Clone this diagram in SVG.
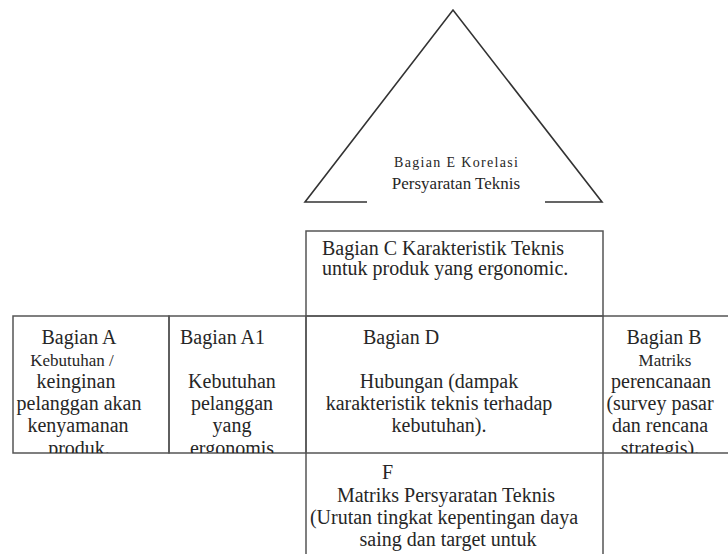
<svg xmlns="http://www.w3.org/2000/svg" width="728" height="554" viewBox="0 0 728 554">
  <style>
    .ln { fill: none; stroke: #555; stroke-width: 1.5; }
    .tri { fill: none; stroke: #333; stroke-width: 1.6; }
    .t { font-family: "Liberation Serif", "Times New Roman", serif; font-size: 20px; fill: #262626; }
    .m { text-anchor: middle; }
    .s { font-size: 17px; }
  </style>
  <defs>
    <clipPath id="rowClip"><rect x="0" y="316" width="728" height="137"/></clipPath>
  </defs>
  <rect x="0" y="0" width="728" height="554" fill="#ffffff"/>

  <g id="node-E">
    <polyline class="tri" points="367,202 305,202 453,10 602,202 545,202"/>
    <text class="t m" x="456" y="167" textLength="124" lengthAdjust="spacing" style="font-size:14px">Bagian E Korelasi</text>
    <text class="t m" x="456" y="189" style="font-size:17px">Persyaratan Teknis</text>
  </g>

  <g id="node-C">
    <rect class="ln" x="306" y="231" width="297" height="85"/>
    <text class="t" x="322" y="255">Bagian C Karakteristik Teknis</text>
    <text class="t" x="322" y="275">untuk produk yang ergonomic.</text>
  </g>

  <g id="node-A">
    <rect class="ln" x="13" y="316" width="156" height="137"/>
    <g clip-path="url(#rowClip)">
      <text class="t m" x="79" y="344">Bagian A</text>
      <text class="t m s" x="72" y="366">Kebutuhan /</text>
      <text class="t m" x="76" y="388">keinginan</text>
      <text class="t m" x="79" y="410">pelanggan akan</text>
      <text class="t m" x="78" y="432">kenyamanan</text>
      <text class="t m" x="79" y="455">produk.</text>
    </g>
  </g>

  <g id="node-A1">
    <rect class="ln" x="169" y="316" width="137" height="137"/>
    <g clip-path="url(#rowClip)">
      <text class="t" x="180" y="344">Bagian A1</text>
      <text class="t m" x="232" y="388">Kebutuhan</text>
      <text class="t m" x="232" y="410">pelanggan</text>
      <text class="t m" x="232" y="432">yang</text>
      <text class="t m" x="232" y="455">ergonomis</text>
    </g>
  </g>

  <g id="node-D">
    <rect class="ln" x="306" y="316" width="297" height="137"/>
    <g clip-path="url(#rowClip)">
      <text class="t" x="363" y="344">Bagian D</text>
      <text class="t m" x="439" y="388">Hubungan (dampak</text>
      <text class="t m" x="439" y="410">karakteristik teknis terhadap</text>
      <text class="t m" x="439" y="432">kebutuhan).</text>
    </g>
  </g>

  <g id="node-B">
    <line class="ln" x1="603" y1="316" x2="728" y2="316"/>
    <line class="ln" x1="603" y1="453" x2="728" y2="453"/>
    <g clip-path="url(#rowClip)">
      <text class="t m" x="664" y="344">Bagian B</text>
      <text class="t m s" x="665" y="366">Matriks</text>
      <text class="t m" x="661" y="388">perencanaan</text>
      <text class="t m" x="660" y="410">(survey pasar</text>
      <text class="t m" x="660" y="432">dan rencana</text>
      <text class="t m" x="660" y="455">strategis).</text>
    </g>
  </g>

  <g id="node-F">
    <line class="ln" x1="306" y1="453" x2="306" y2="554"/>
    <line class="ln" x1="603" y1="453" x2="603" y2="554"/>
    <text class="t" x="382" y="479">F</text>
    <text class="t m" x="446" y="502">Matriks Persyaratan Teknis</text>
    <text class="t m" x="444" y="524">(Urutan tingkat kepentingan daya</text>
    <text class="t m" x="448" y="546">saing dan target untuk</text>
  </g>
</svg>
